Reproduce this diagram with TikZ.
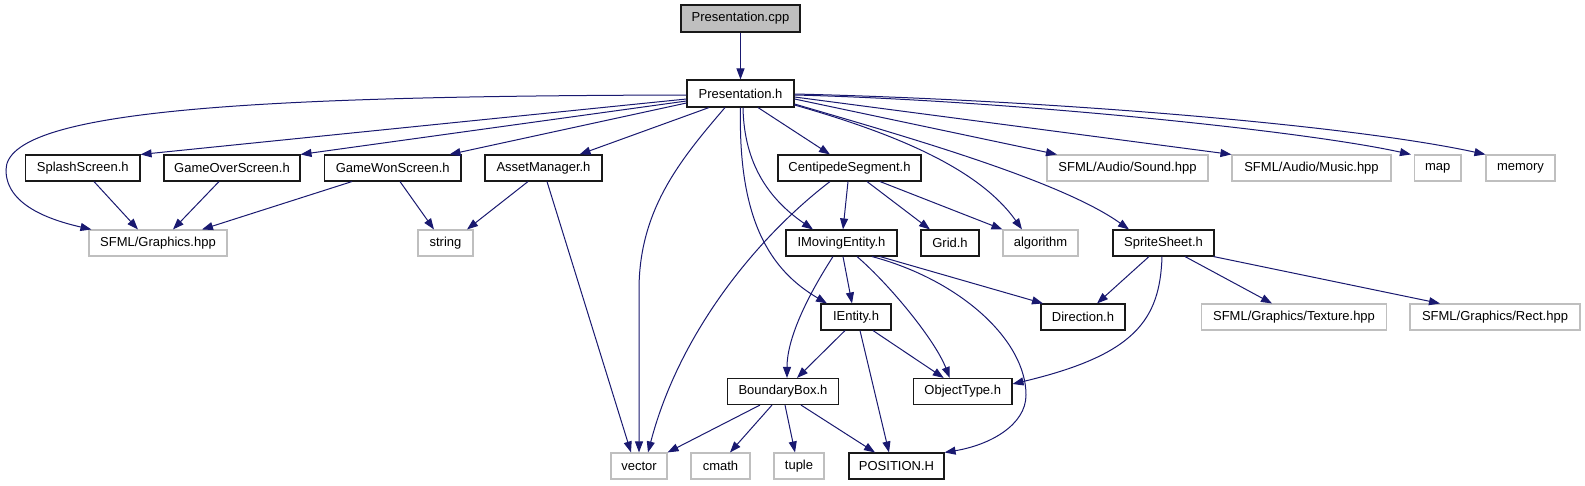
\documentclass[tikz,border=0pt]{standalone}
\usepackage{fontspec}
\setmainfont{Liberation Sans}
\usetikzlibrary{arrows.meta}
\definecolor{edgeblue}{HTML}{191970}
\definecolor{boxgray}{HTML}{BFBFBF}
\begin{document}
\begin{tikzpicture}[x=1pt,y=-1pt,
  box/.style={draw=black!90, line width=1.1pt, fill=white, minimum height=26pt, inner sep=0pt, font=\fontsize{13}{15}\selectfont},
  ext/.style={box, draw=boxgray},
  root/.style={box, fill=boxgray},
  dep/.style={draw=edgeblue, line width=1pt, -{Triangle[length=11pt,width=8pt]}, fill=none}]
\fill[white] (0,0) rectangle (1585,485);
\useasboundingbox (0,0) rectangle (1585,485);
% nodes
\node[root, minimum width=119pt, minimum height=27pt] (cpp) at (740.5,18.5) {Presentation.cpp};
\node[box, minimum width=107pt, minimum height=27pt] (ph) at (740.5,93.5) {Presentation.h};
% row 1
\node[box, minimum width=114.5pt] (splash) at (82.75,168) {SplashScreen.h};
\node[box, minimum width=136pt] (gover) at (232,168) {GameOverScreen.h};
\node[box, minimum width=136.5pt] (gwon) at (392.75,168) {GameWonScreen.h};
\node[box, minimum width=117pt] (asset) at (543.5,168) {AssetManager.h};
\node[box, minimum width=143pt] (cseg) at (849.5,168) {CentipedeSegment.h};
\node[ext, minimum width=161pt] (sound) at (1127.5,168) {SFML/Audio/Sound.hpp};
\node[ext, minimum width=159pt] (music) at (1311.5,168) {SFML/Audio/Music.hpp};
\node[ext, minimum width=46.5pt] (map) at (1437.75,168) {map};
\node[ext, minimum width=69pt] (memory) at (1520.5,168) {memory};
% row 2
\node[ext, minimum width=138pt] (sfmlg) at (158,243) {SFML/Graphics.hpp};
\node[ext, minimum width=55pt] (string) at (445.5,243) {string};
\node[box, minimum width=111pt] (imov) at (841.5,243) {IMovingEntity.h};
\node[box, minimum width=58pt] (grid) at (950,243) {Grid.h};
\node[ext, minimum width=75pt] (algo) at (1040.5,243) {algorithm};
\node[box, minimum width=101pt] (sprite) at (1163.5,243) {SpriteSheet.h};
% row 3
\node[box, minimum width=70pt] (ientity) at (856,317) {IEntity.h};
\node[box, minimum width=84pt] (dir) at (1083,317) {Direction.h};
\node[ext, minimum width=185pt] (texture) at (1294,317) {SFML/Graphics/Texture.hpp};
\node[ext, minimum width=170pt] (rect) at (1495,317) {SFML/Graphics/Rect.hpp};
% row 4
\node[box, minimum width=111pt] (bbox) at (783,391.5) {BoundaryBox.h};
\node[box, minimum width=98.5pt] (otype) at (962.75,391.5) {ObjectType.h};
% row 5
\node[ext, minimum width=56pt] (vector) at (639,466) {vector};
\node[ext, minimum width=59pt] (cmath) at (720.5,466) {cmath};
\node[ext, minimum width=50pt] (tuple) at (799,466) {tuple};
\node[box, minimum width=95pt] (pos) at (896.5,466) {POSITION.H};
% edges
\draw[dep] (cpp.south) -- (ph.north);
\draw[dep] ([yshift=-1.5pt]ph.west) .. controls (250,96) and (6,110) .. (6,170) .. controls (6,205) and (50,220) .. ([xshift=3pt]sfmlg.north west);
\draw[dep] ([yshift=-5.5pt]ph.west) -- (splash.north east);
\draw[dep] ([yshift=-7.5pt]ph.west) -- (gover.north east);
\draw[dep] ([yshift=-9.5pt]ph.west) -- ([xshift=-12pt]gwon.north east);
\draw[dep] ([xshift=-31.5pt]ph.south) -- ([xshift=-23pt]asset.north east);
\draw[dep] ([xshift=-15.5pt]ph.south) .. controls (680,160) and (639,210) .. (639,290) -- (vector.north);
\draw[dep] (ph.south) .. controls (738,220) and (770,270) .. ([xshift=-29pt]ientity.north);
\draw[dep] ([xshift=2.5pt]ph.south) .. controls (744,165) and (770,200) .. ([xshift=-28.5pt]imov.north);
\draw[dep] ([xshift=17.5pt]ph.south) -- ([xshift=-19.5pt]cseg.north);
\draw[dep] ([yshift=-11.5pt]ph.east) .. controls (900,135) and (980,170) .. ([xshift=-18.5pt]algo.north);
\draw[dep] ([yshift=-10.5pt]ph.east) .. controls (900,135) and (1060,180) .. ([xshift=-34.5pt]sprite.north);
\draw[dep] ([yshift=-5.5pt]ph.east) -- ([xshift=-70.5pt]sound.north);
\draw[dep] ([yshift=-3.5pt]ph.east) -- (music.north west);
\draw[dep] ([yshift=-1.5pt]ph.east) .. controls (1000,100) and (1300,130) .. ([xshift=-3pt]map.north west);
\draw[dep] ([yshift=-0.5pt]ph.east) .. controls (1050,100) and (1350,125) .. (memory.north west);
% row 1 out
\draw[dep] ([xshift=11.25pt]splash.south) -- ([xshift=-20pt]sfmlg.north);
\draw[dep] ([xshift=-13pt]gover.south) -- ([xshift=15pt]sfmlg.north);
\draw[dep] ([xshift=-40.75pt]gwon.south) -- ([xshift=44pt]sfmlg.north);
\draw[dep] ([xshift=7.25pt]gwon.south) -- ([xshift=-11.5pt]string.north);
\draw[dep] ([xshift=-15.5pt]asset.south) -- ([xshift=21.5pt]string.north);
\draw[dep] ([xshift=3.5pt]asset.south) -- ([xshift=-8pt]vector.north);
\draw[dep] ([xshift=-19.5pt]cseg.south) .. controls (760,235) and (680,330) .. ([xshift=9pt]vector.north);
\draw[dep] ([xshift=-1.5pt]cseg.south) -- ([xshift=1.5pt]imov.north);
\draw[dep] ([xshift=17.5pt]cseg.south) -- ([xshift=-20pt]grid.north);
\draw[dep] ([xshift=30.5pt]cseg.south) -- (algo.north west);
% row 2 out
\draw[dep] ([xshift=-8.5pt]imov.south) .. controls (805,300) and (787,340) .. ([xshift=4pt]bbox.north);
\draw[dep] ([xshift=1.5pt]imov.south) -- ([xshift=-4pt]ientity.north);
\draw[dep] ([xshift=15.5pt]imov.south) .. controls (890,285) and (935,340) .. ([xshift=-13pt]otype.north);
\draw[dep] ([xshift=30.5pt]imov.south) .. controls (960,280) and (1026,340) .. (1026,395) .. controls (1026,425) and (990,445) .. (pos.north east);
\draw[dep] ([xshift=38.5pt]imov.south) -- ([xshift=-40pt]dir.north);
\draw[dep] ([xshift=-14.5pt]sprite.south) -- ([xshift=14pt]dir.north);
\draw[dep] ([xshift=-1.5pt]sprite.south) .. controls (1160,320) and (1135,355) .. ([yshift=7.5pt]otype.east);
\draw[dep] ([xshift=21.5pt]sprite.south) -- ([xshift=-22pt]texture.north);
\draw[dep] ([xshift=-1pt]sprite.south east) -- ([xshift=-55pt]rect.north);
% row 3 out
\draw[dep] ([xshift=-11pt]ientity.south) -- ([xshift=14pt]bbox.north);
\draw[dep] ([xshift=4pt]ientity.south) -- ([xshift=-7.5pt]pos.north);
\draw[dep] ([xshift=17pt]ientity.south) -- ([xshift=-19pt]otype.north);
% row 4 out
\draw[dep] ([xshift=-23pt]bbox.south) -- (vector.north east);
\draw[dep] ([xshift=-11pt]bbox.south) -- ([xshift=9.5pt]cmath.north);
\draw[dep] ([xshift=2pt]bbox.south) -- ([xshift=-4pt]tuple.north);
\draw[dep] ([xshift=18pt]bbox.south) -- ([xshift=-21.5pt]pos.north);
\end{tikzpicture}
\end{document}
